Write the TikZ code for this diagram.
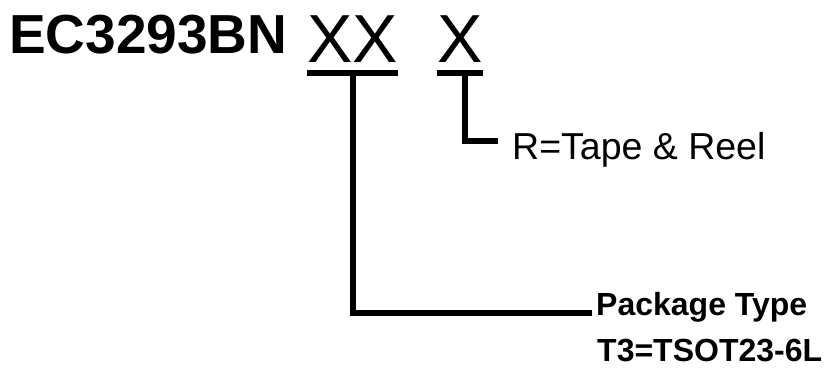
\documentclass[tikz,border=0pt]{standalone}
\usepackage{fontspec}
\setmainfont{Liberation Sans}
\begin{document}
\begin{tikzpicture}[x=1bp,y=-1bp,
  txt/.style={inner sep=0pt,anchor=base west},
  bar/.style={line width=6bp,line join=miter}]
\useasboundingbox[fill=white] (0,0) rectangle (825,367);
\node[txt,font=\fontsize{55bp}{60bp}\selectfont\bfseries] (pn) at (9,53) {EC3293BN};
\node[txt,font=\fontsize{68bp}{72bp}\selectfont] (xx) at (307,62) {XX};
\node[txt,font=\fontsize{68bp}{72bp}\selectfont] (x) at (437,62) {X};
\node[txt,font=\fontsize{37.5bp}{40bp}\selectfont] (reel) at (512,159) {R=Tape \& Reel};
\node[txt,font=\fontsize{32bp}{35bp}\selectfont\bfseries] (pkg) at (596,315) {Package Type};
\node[txt,text depth=0pt,font=\fontsize{32bp}{35bp}\selectfont\bfseries] (t3) at (597,361) {T3=TSOT23-6L};
\coordinate (xxl) at (307,73);
\coordinate (xxr) at (398,73);
\coordinate (xxm) at (353,73);
\coordinate (xl) at (437,73);
\coordinate (xr) at (483,73);
\coordinate (xm) at (465,73);
\coordinate (reelend) at (498,141);
\coordinate (pkgend) at (592,313);
\draw[bar] (xxl) -- (xxr);
\draw[bar] (xl) -- (xr);
\draw[bar] (xxm) |- (pkgend);
\draw[bar] (xm) |- (reelend);
\end{tikzpicture}
\end{document}
